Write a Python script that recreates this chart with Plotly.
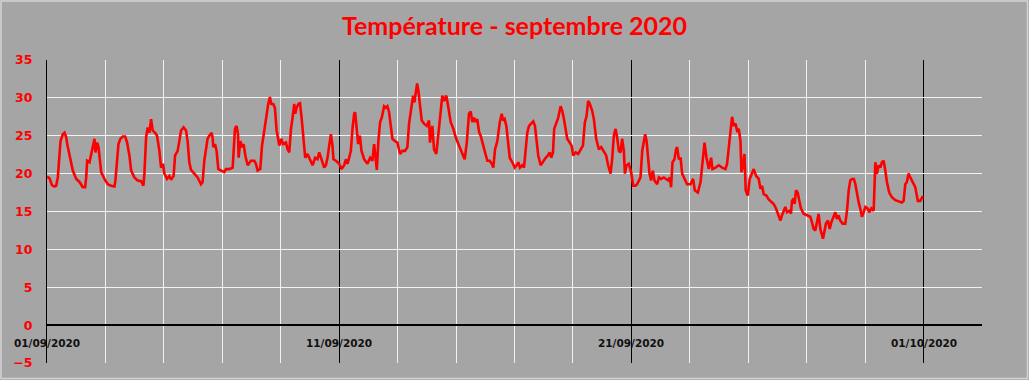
import pandas as pd
import plotly.graph_objects as go

# Hours elapsed since 01/09/2020 00:00, and temperature (°C)
hours = [0, 2, 4, 6, 7.5, 8.9, 11.1, 13.0, 14.4, 15.8, 16.6, 18.5, 21.2, 24.0, 26.7, 29.4, 31.3, 32.2, 33.0, 34.9,
         36.3, 37.6, 39.0, 39.8, 41.2, 42.3, 43.1, 44.5, 47.2, 49.9, 52.7, 55.4, 56.2, 57.6, 58.7, 60.3, 62.2, 64.2,
         65.8, 67.7, 69.1, 71.8, 74.5, 77.3, 79.2, 80.0, 81.4, 82.7, 84.1, 85.5, 86.8, 88.8, 90.4, 92.3, 93.7, 95.3,
         96.4, 98.6, 100.5, 101.9, 104.0, 105.2, 107.3, 108.7, 110.1, 112.2, 114.2, 115.5, 116.9, 118.3, 121.0,
         123.7, 126.5, 127.8, 129.2, 130.6, 131.9, 133.3, 135.2, 136.0, 136.6, 138.0, 139.3, 140.7, 142.9, 145.6,
         147.0, 149.7, 152.5, 153.3, 154.4, 155.7, 156.9, 157.4, 158.8, 160.2, 161.5, 162.9, 164.8, 167.5, 170.3,
         171.6, 173.0, 175.2, 176.6, 178.5, 180.3, 181.7, 183.1, 184.2, 185.8, 187.2, 188.6, 189.9, 190.8, 192.4,
         194.0, 196.3, 197.6, 199.0, 200.4, 201.7, 203.1, 203.9, 205.0, 206.6, 207.8, 209.1, 210.5, 212.1, 214.0,
         216.0, 218.1, 220.3, 222.2, 223.6, 225.2, 226.3, 227.7, 229.1, 230.4, 231.8, 233.2, 234.5, 235.3, 237.3,
         240.0, 241.9, 244.1, 245.5, 246.8, 248.2, 249.6, 250.9, 252.3, 253.1, 254.5, 255.6, 257.0, 258.3, 260.5,
         263.2, 265.4, 267.3, 268.7, 270.1, 270.9, 272.2, 273.6, 275.0, 276.9, 278.3, 279.6, 281.0, 282.4, 283.7,
         285.7, 287.8, 290.0, 291.9, 294.1, 296.0, 297.4, 299.3, 300.7, 301.8, 302.9, 304.0, 305.1, 306.4, 307.8,
         309.7, 311.9, 313.8, 314.6, 316.5, 317.9, 319.8, 321.2, 322.9, 324.7, 326.1, 328.0, 329.7, 331.6, 333.8,
         335.7, 338.4, 341.1, 343.1, 344.8, 346.6, 348.0, 349.4, 350.8, 352.1, 353.4, 354.9, 356.2, 358.1, 359.8,
         361.7, 363.6, 365.3, 366.6, 368.0, 369.9, 371.9, 373.5, 374.6, 375.9, 377.3, 378.7, 380.1, 382.2, 384.2,
         385.8, 387.1, 388.5, 390.4, 391.8, 393.2, 394.5, 395.9, 397.8, 399.4, 400.8, 402.2, 403.5, 405.5, 407.6,
         409.6, 411.5, 412.9, 414.2, 415.6, 416.6, 418.3, 419.9, 421.9, 423.2, 424.6, 426.0, 427.3, 429.3, 430.9,
         432.2, 434.2, 436.3, 438.3, 440.2, 441.8, 443.2, 444.5, 445.9, 447.8, 449.2, 451.1, 453.3, 455.2, 457.4,
         459.3, 460.9, 462.9, 464.2, 465.6, 467.0, 468.3, 469.7, 471.1, 472.4, 473.8, 474.7, 476.0, 477.9, 479.8,
         481.5, 483.4, 484.7, 486.2, 487.5, 488.9, 490.3, 491.3, 492.5, 493.5, 494.9, 496.2, 497.6, 499.0, 501.2,
         502.6, 504.4, 506.7, 508.9, 510.2, 511.6, 512.6, 513.8, 515.4, 516.7, 517.6, 519.0, 520.4, 521.7, 523.6,
         525.8, 528.6, 530.7, 532.1, 534.6, 536.8, 538.7, 540.1, 541.7, 543.6, 545.5, 546.6, 549.1, 551.8, 554.5,
         557.3, 558.6, 560.0, 561.4, 562.7, 564.1, 565.5, 566.8, 568.2, 569.6, 570.4, 571.7, 572.9, 573.9, 575.6,
         577.2, 579.1, 580.5, 582.4, 584.6, 586.0, 587.3, 588.7, 590.9, 592.8, 595.0, 596.9, 598.8, 601.0, 602.4,
         603.7, 605.1, 606.5, 607.8, 609.8, 611.1, 611.9, 613.3, 614.1, 615.2, 616.6, 618.0, 619.3, 621.5, 624.2,
         627.0, 628.3, 629.7, 631.1, 632.4, 633.8, 635.2, 636.1, 637.4, 638.5, 639.8, 641.5, 642.9, 644.3, 646.1,
         647.5, 648.8, 650.2, 651.6, 653.5, 655.7, 657.1, 658.5, 659.8, 661.2, 662.8, 664.0, 665.3, 666.7, 668.0,
         669.4, 670.8, 672.2, 674.0, 675.4, 677.1, 679.0, 680.4, 681.7, 683.1, 684.5, 685.8, 687.2, 688.6, 689.9,
         691.8, 694.0, 696.8, 699.5, 702.2, 703.6, 705.0, 706.3, 707.7, 709.1, 711.0, 713.2, 715.3, 717.3, 719.0,
         720.0]

temps = [19.6, 19.4, 18.5, 18.3, 18.4, 19.5, 24.3, 25.2, 25.4, 24.8, 23.9, 22.6, 20.4, 19.3, 18.9, 18.2, 18.2, 19.5, 21.7, 21.5,
         22.6, 23.5, 24.6, 22.8, 24.1, 23.5, 22.1, 20.2, 19.3, 18.6, 18.4, 18.3, 19.1, 22.6, 23.9, 24.6, 24.9, 24.9,
         24.1, 22.4, 20.4, 19.5, 19.1, 19.0, 18.4, 20.0, 24.8, 26.1, 25.4, 27.2, 25.7, 25.4, 25.0, 23.0, 20.8, 21.3,
         20.0, 19.3, 19.7, 19.2, 19.7, 22.4, 23.0, 24.3, 25.7, 26.1, 25.7, 24.3, 21.5, 20.5, 20.0,
         19.5, 18.6, 18.9, 21.7, 23.5, 24.6, 25.0, 25.4, 24.8, 23.5, 23.9, 23.0, 20.6, 20.4, 20.2,
         20.6, 20.6, 20.8, 23.7, 25.9, 26.3, 25.2, 22.1, 24.3, 23.5, 23.9, 22.4, 21.1, 21.7, 21.7,
         21.3, 20.4, 20.6, 23.7, 25.7, 27.9, 29.2, 30.1, 29.2, 29.2, 28.7, 25.7, 24.3, 23.7, 24.6,
         23.9, 24.1, 23.2, 22.8, 25.9, 27.4, 29.2, 27.9, 28.7, 29.2, 29.3, 27.4, 24.6, 22.1, 22.6,
         21.9, 21.1, 22.1, 21.9, 22.8, 21.9, 21.3, 20.8, 21.1, 22.1, 23.7, 25.2, 23.7, 21.9, 21.7,
         21.3, 20.6, 21.1, 21.9, 21.3, 22.1, 23.0, 25.9, 27.9, 28.1, 25.0, 23.9, 25.0, 23.0, 21.9,
         21.3, 22.1, 21.7, 23.9, 21.1, 20.5, 24.3, 26.8, 27.4, 28.9, 28.7, 28.9, 28.1, 26.6, 24.6,
         24.3, 24.1, 22.6, 23.0, 23.0, 23.5, 26.6, 28.7, 30.3, 29.4, 31.1, 31.9, 30.9, 28.7, 27.0,
         26.6, 26.3, 27.0, 24.1, 26.3, 23.2, 22.6, 24.8, 27.4, 30.3, 29.6, 30.3, 28.7, 26.8, 25.9,
         24.8, 23.7, 22.6, 21.9, 24.1, 27.9, 28.2, 26.8, 27.4, 26.8, 27.2, 25.5, 25.0, 23.6, 22.8,
         21.7, 21.7, 21.3, 20.8, 23.2, 24.3, 26.8, 27.9, 27.0, 27.2, 26.3, 24.1, 22.1, 21.5, 20.8,
         21.1, 21.5, 20.8, 21.1, 20.8, 23.0, 25.4, 26.3, 26.6, 26.9, 26.3, 24.1, 22.4, 21.1, 21.7,
         22.1, 22.4, 22.8, 22.1, 22.8, 25.9, 26.6, 27.4, 28.9, 28.3, 27.2, 26.1, 24.6, 24.1, 23.7,
         22.4, 22.8, 22.6, 23.2, 23.7, 26.8, 27.6, 29.6, 29.2, 28.3, 27.2, 24.6, 23.2, 23.5, 22.8,
         22.4, 21.1, 20.0, 21.9, 25.0, 25.9, 24.8, 23.0, 22.8, 24.6, 23.0, 20.0, 21.1, 21.3, 20.2,
         18.4, 18.4, 18.6, 19.1, 19.5, 23.0, 24.3, 25.2, 24.3, 22.8, 20.0, 19.1, 20.4, 19.1, 18.6,
         19.5, 19.3, 19.5, 19.3, 19.1, 19.5, 18.2, 21.5, 21.9, 23.2, 23.5, 21.9, 22.1, 20.0, 19.3,
         18.6, 18.6, 19.3, 17.8, 17.5, 18.9, 22.1, 24.1, 22.1, 20.6, 22.1, 20.6, 20.8, 21.1, 20.8,
         20.6, 21.3, 23.5, 26.1, 27.5, 26.3, 26.6, 25.7, 25.9, 24.3, 20.2, 21.1, 22.6, 17.8, 17.1,
         19.3, 20.2, 20.6, 19.7, 19.3, 18.0, 18.4, 17.3, 17.1, 16.6, 16.2, 16.0, 15.4, 14.5, 13.8,
         14.5, 15.1, 15.6, 14.9, 15.1, 14.7, 16.4, 16.7, 16.0, 17.8, 17.5, 16.4, 15.4, 14.7, 14.5,
         14.3, 13.6, 12.7, 12.5, 13.8, 14.7, 12.7, 12.1, 11.4, 12.3, 13.4, 13.8, 12.7, 13.6, 14.5,
         14.9, 14.0, 14.5, 13.8, 13.4, 13.4, 15.1, 17.8, 19.1, 19.3, 19.3, 18.6, 17.3, 16.2, 15.4,
         14.3, 14.9, 15.6, 15.4, 14.9, 15.4, 15.1, 21.5, 20.0, 21.1, 20.8, 21.5, 21.7, 20.4, 18.9,
         17.5, 16.9, 16.5, 16.4, 16.2, 16.4, 18.6, 18.9, 20.0, 19.5, 18.9, 18.2, 16.4, 16.4, 16.9,
         16.9]

x_tick_dates = ["2020-09-01", "2020-09-11", "2020-09-21", "2020-10-01"]
x_tick_labels = ["01/09/2020", "11/09/2020", "21/09/2020", "01/10/2020"]
y_ticks = [-5, 0, 5, 10, 15, 20, 25, 30, 35]

title_text = "Température - septembre 2020"

times = pd.Timestamp("2020-09-01") + pd.to_timedelta(hours, unit="h")

W, H = 1029, 380
L, R, T, B = 47, 47, 60, 17
PW, PH = W - L - R, H - T - B
BG = "#a5a5a5"
DAY_MS = 86400000

fig = go.Figure()
fig.add_trace(go.Scatter(x=times, y=temps, mode="lines",
                         line=dict(color="#ff0000", width=2.6), hoverinfo="skip"))

annotations = [dict(x=d, y=-2.3, xref="x", yref="y", text=t, showarrow=False,
                    font=dict(family="DejaVu Sans", size=10.5, color="#111111", weight="bold"))
               for d, t in zip(x_tick_dates, x_tick_labels)]

fig.update_layout(
    width=W, height=H,
    margin=dict(l=L, r=R, t=T, b=B, pad=0, autoexpand=False),
    paper_bgcolor=BG, plot_bgcolor=BG,
    showlegend=False,
    title=dict(text=title_text, x=0.5, xref="paper", xanchor="center",
               y=1 - 26 / H, yref="container", yanchor="middle",
               font=dict(family="Lato", size=25, color="#ff0000", weight="bold")),
    annotations=annotations,
    shapes=[dict(type="rect", xref="paper", yref="paper",
                 x0=(1 - L) / PW, x1=(W - 1.5 - L) / PW,
                 y0=(H - B - (H - 1.5)) / PH, y1=(H - B - 1) / PH,
                 line=dict(color="#d4d4d4", width=1.5), layer="below")],
)

fig.update_xaxes(
    type="date", range=["2020-09-01", "2020-10-03"],
    tick0="2020-09-01", dtick=10 * DAY_MS,
    showticklabels=False, ticks="", automargin=False,
    showgrid=True, gridcolor="#000000", gridwidth=1,
    minor=dict(tick0="2020-09-01", dtick=2 * DAY_MS, showgrid=True,
               gridcolor="#f2f2f2", gridwidth=1, ticks=""),
    showline=False, zeroline=False,
)

fig.update_yaxes(
    range=[-5, 35], tickvals=y_ticks, ticks="", automargin=False,
    showgrid=True, gridcolor="#f2f2f2", gridwidth=1,
    zeroline=True, zerolinecolor="#000000", zerolinewidth=2,
    showline=True, linecolor="#000000", linewidth=1,
    tickfont=dict(family="DejaVu Sans", size=12.5, color="#ff0000", weight="bold"),
    ticklabelstandoff=11,
)

fig.write_html("out.html", config={"displayModeBar": False},
               post_script="document.body.style.margin='0';document.body.style.overflow='hidden';")
